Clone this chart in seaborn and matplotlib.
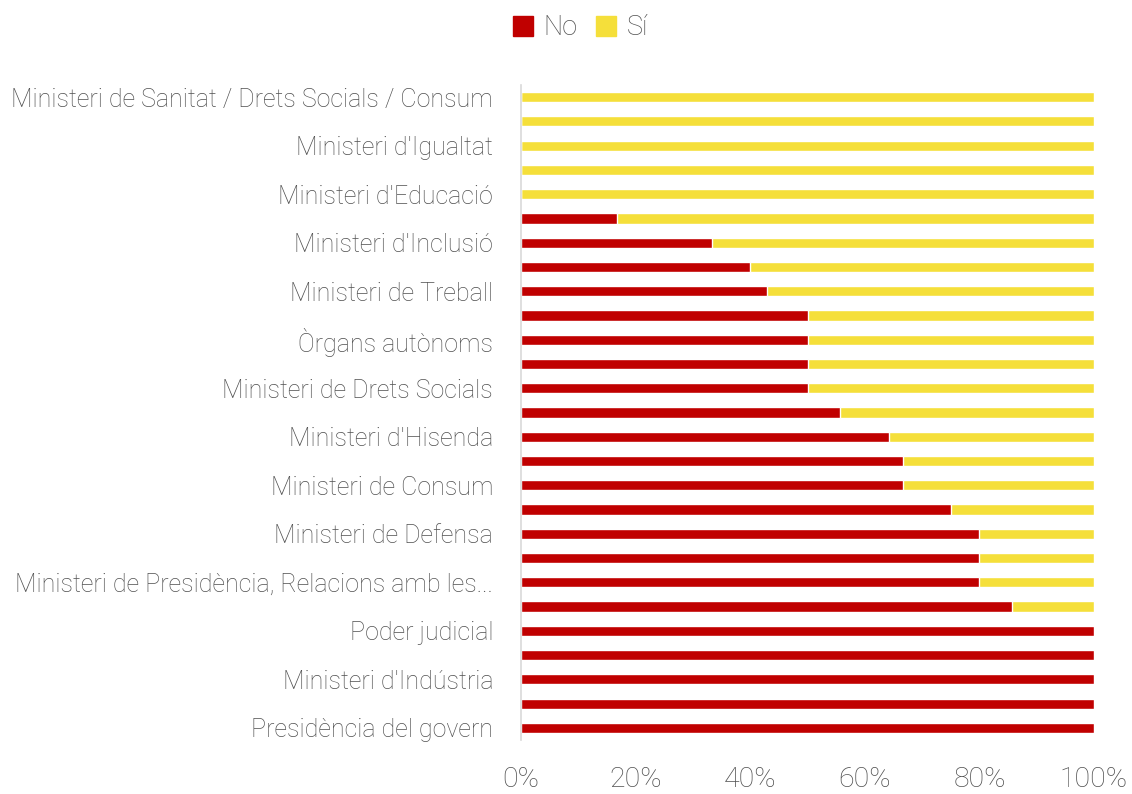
import matplotlib
matplotlib.use("Agg")
import matplotlib.pyplot as plt
import seaborn as sns
import pandas as pd
from matplotlib.lines import Line2D

labels = [
    "Ministeri de Sanitat / Drets Socials / Consum", "",
    "Ministeri d'Igualtat", "",
    "Ministeri d'Educació", "",
    "Ministeri d'Inclusió", "",
    "Ministeri de Treball", "",
    "Òrgans autònoms", "",
    "Ministeri de Drets Socials", "",
    "Ministeri d'Hisenda", "",
    "Ministeri de Consum", "",
    "Ministeri de Defensa", "",
    "Ministeri de Presidència, Relacions amb les...", "",
    "Poder judicial", "",
    "Ministeri d'Indústria", "",
    "Presidència del govern",
]
no_pct = [0, 0, 0, 0, 0, 16.7, 33.3, 40.0, 42.9, 50.0, 50.0, 50.0, 50.0,
          55.6, 64.3, 66.7, 66.7, 75.0, 80.0, 80.0, 80.0, 85.7,
          100, 100, 100, 100, 100]
si_pct = [100 - v for v in no_pct]
xticks = [0, 20, 40, 60, 80, 100]

RED = "#C00000"
YEL = "#F5DF3A"
TXT = "#505050"

sns.set_theme(style="white")
plt.rcParams["font.family"] = ["Roboto", "DejaVu Sans"]

df = pd.DataFrame({"pos": list(range(len(no_pct))), "no": no_pct, "si": si_pct})
df["total"] = df["no"] + df["si"]

fig = plt.figure(figsize=(11.32, 7.94), dpi=100)
ax = fig.add_axes([521 / 1132, 1 - 740 / 794, (1094 - 521) / 1132, (740 - 85) / 794])

sns.barplot(data=df, x="total", y="pos", orient="h", color=YEL, width=0.42,
            ax=ax, saturation=1, order=list(range(len(no_pct))))
sns.barplot(data=df, x="no", y="pos", orient="h", color=RED, width=0.42,
            ax=ax, saturation=1, order=list(range(len(no_pct))))

ax.set_xlim(0, 100)
ax.set_ylim(len(no_pct) - 0.5, -0.5)
ax.set_xticks(xticks)
ax.set_xticklabels([f"{v}%" for v in xticks], fontsize=20.5, color=TXT, fontweight="light")
ax.set_yticks(range(len(labels)))
ax.set_yticklabels(labels, fontsize=18, color=TXT, fontweight="light")
ax.tick_params(axis="y", length=0, pad=20)
ax.tick_params(axis="x", length=0, pad=19)
ax.set_xlabel("")
ax.set_ylabel("")
for s in ["top", "right", "bottom"]:
    ax.spines[s].set_visible(False)
ax.spines["left"].set_color("#D9D9D9")
ax.spines["left"].set_linewidth(1.2)
ax.grid(False)

handles = [Line2D([], [], marker="s", ls="", markersize=13.7, color=RED, label="No"),
           Line2D([], [], marker="s", ls="", markersize=13.7, color=YEL, label="Sí")]
leg = fig.legend(handles=handles, loc="center", bbox_to_anchor=(0.513, 0.965), ncol=2,
                 frameon=False, fontsize=19.5, handlelength=0.7,
                 handletextpad=0.4, columnspacing=0.7)
for t in leg.get_texts():
    t.set_color(TXT)
    t.set_fontweight("light")

fig.savefig("out.png", dpi=100)
